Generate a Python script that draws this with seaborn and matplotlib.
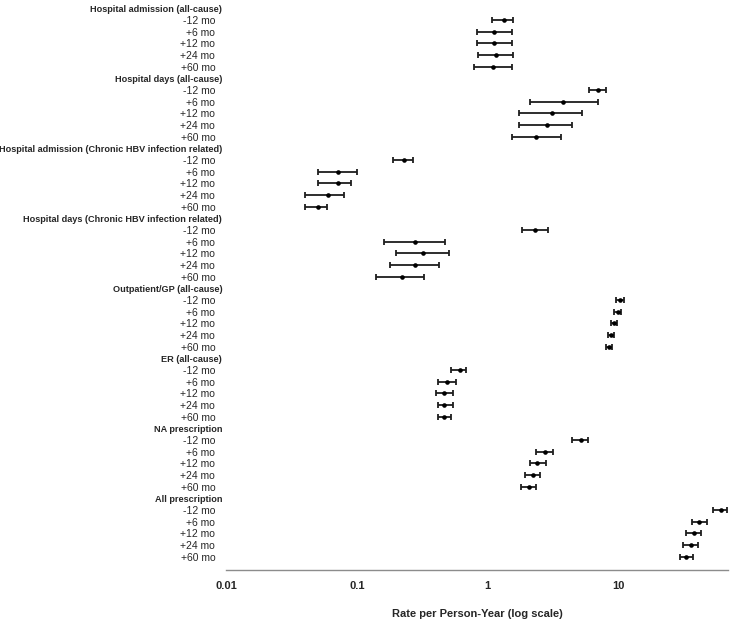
"""Forest-style chart of healthcare utilisation rates (log scale)."""
import numpy as np
import pandas as pd
import matplotlib
matplotlib.use("Agg")
import matplotlib.pyplot as plt
import seaborn as sns
from matplotlib.ticker import NullLocator

groups = [
    "Hospital admission (all-cause)",
    "Hospital days (all-cause)",
    "Hospital admission (Chronic HBV infection related)",
    "Hospital days (Chronic HBV infection related)",
    "Outpatient/GP (all-cause)",
    "ER (all-cause)",
    "NA prescription",
    "All prescription",
]
timepoints = ["-12 mo", "+6 mo", "+12 mo", "+24 mo", "+60 mo"]

# point estimate per group, in timepoint order
rate = [
    [1.33, 1.13, 1.13, 1.16, 1.10],
    [6.95, 3.81, 3.09, 2.83, 2.37],
    [0.23, 0.071, 0.071, 0.060, 0.050],
    [2.30, 0.278, 0.322, 0.278, 0.22],
    [10.3, 9.93, 9.30, 8.83, 8.58],
    [0.614, 0.491, 0.466, 0.466, 0.466],
    [5.17, 2.74, 2.41, 2.22, 2.06],
    [61.7, 41.9, 37.9, 35.9, 33.3],
]
ci_low = [
    [1.09, 0.83, 0.83, 0.84, 0.79],
    [5.93, 2.10, 1.74, 1.74, 1.53],
    [0.188, 0.050, 0.050, 0.040, 0.040],
    [1.82, 0.161, 0.200, 0.179, 0.139],
    [9.70, 9.30, 8.78, 8.37, 8.14],
    [0.521, 0.419, 0.404, 0.419, 0.419],
    [4.47, 2.37, 2.10, 1.94, 1.79],
    [53.6, 36.6, 33.1, 31.6, 29.6],
]
ci_high = [
    [1.58, 1.53, 1.53, 1.58, 1.53],
    [8.14, 6.98, 5.33, 4.47, 3.66],
    [0.270, 0.100, 0.0895, 0.080, 0.0593],
    [2.88, 0.469, 0.506, 0.426, 0.326],
    [11.0, 10.6, 9.88, 9.37, 9.04],
    [0.686, 0.569, 0.540, 0.540, 0.521],
    [5.89, 3.18, 2.81, 2.53, 2.35],
    [68.6, 47.9, 42.9, 40.9, 37.2],
]

sns.set_theme(style="white")
plt.rcParams["font.family"] = ["Liberation Sans", "DejaVu Sans"]

records = []
labels = []
for g, name in enumerate(groups):
    labels.append((6 * g, name, True))
    for t, tp in enumerate(timepoints):
        row = 6 * g + 1 + t
        labels.append((row, tp, False))
        records.append({
            "group": name, "timepoint": tp, "row": row,
            "rate": rate[g][t], "lo": ci_low[g][t], "hi": ci_high[g][t],
        })
df = pd.DataFrame(records)

fig = plt.figure(figsize=(7.31, 6.25), dpi=100)
ax = fig.add_axes([0.3096, 0.088, 0.6859, 0.912])

ax.errorbar(df["rate"], df["row"],
            xerr=[df["rate"] - df["lo"], df["hi"] - df["rate"]],
            fmt="none", ecolor="#1e1e1e", elinewidth=1.3,
            capsize=2.4, capthick=1.3, zorder=2)
sns.scatterplot(data=df, x="rate", y="row", ax=ax, color="#000000",
                marker="o", s=11, linewidth=0, zorder=3, legend=False)

ax.set_xscale("log")
ax.set_xlim(0.01, 69)
ax.set_ylim(48.15, -0.7)
ax.set_xticks([0.01, 0.1, 1, 10])
ax.set_xticklabels(["0.01", "0.1", "1", "10"], fontsize=8, fontweight="bold")
ax.xaxis.set_minor_locator(NullLocator())
ax.tick_params(axis="x", direction="in", length=3, width=0.8, color="#8c8c8c", pad=8)

ax.set_yticks([r for r, _, _ in labels])
ax.set_yticklabels([s for _, s, _ in labels])
ax.tick_params(axis="y", length=0)
for tick, (_, _, is_head) in zip(ax.yaxis.get_major_ticks(), labels):
    tick.set_pad(3 if is_head else 8)
    if is_head:
        tick.label1.set_fontweight("bold")
        tick.label1.set_fontsize(6.6)
    else:
        tick.label1.set_fontsize(7.5)

ax.set_xlabel("Rate per Person-Year (log scale)", fontsize=8, fontweight="bold", labelpad=13)
ax.set_ylabel("")

for side in ["top", "right", "left"]:
    ax.spines[side].set_visible(False)
ax.spines["bottom"].set_color("#8c8c8c")
ax.spines["bottom"].set_linewidth(1.0)

fig.savefig("out.png", dpi=100)
